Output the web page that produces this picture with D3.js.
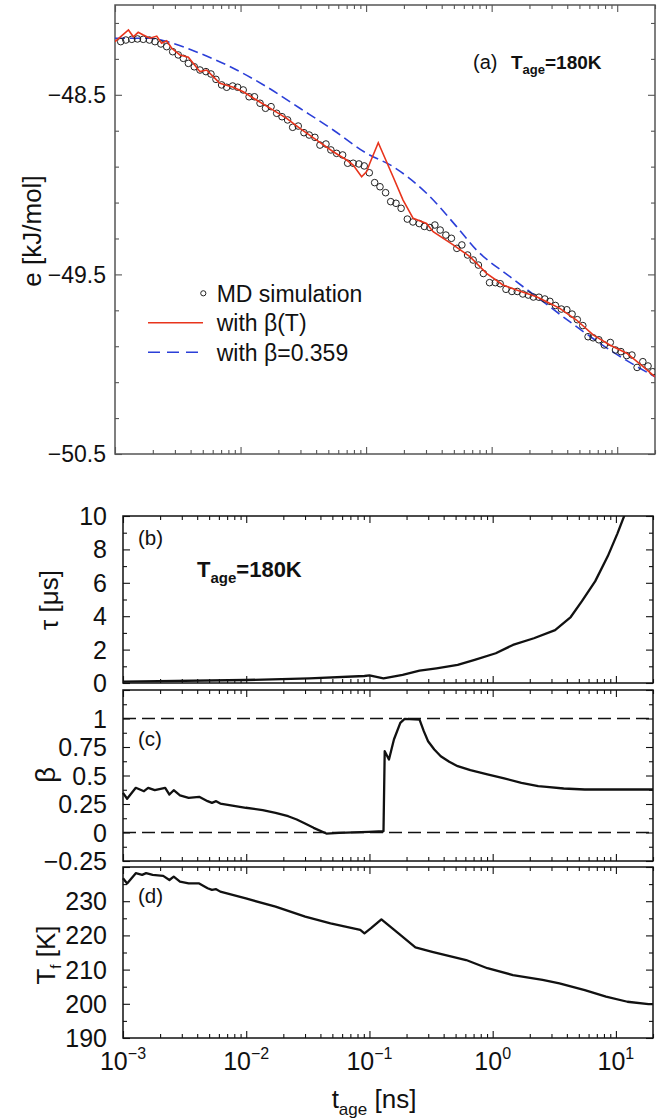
<!DOCTYPE html>
<html>
<head>
<meta charset="utf-8">
<script src="https://cdn.jsdelivr.net/npm/d3@7"></script>
<style>
  body { margin: 0; background: #fff; }
  svg { display: block; font-family: "Liberation Sans", Arial, Helvetica, sans-serif; }
</style>
</head>
<body>
<svg id="fig" width="665" height="1119"></svg>
<script>
// ---------- data ----------
// (a) energy per molecule during aging at T_age = 180 K
const mdTime = [0.00111,0.00122,0.00136,0.00151,0.00168,0.00188,0.00208,0.00232,0.00258,0.00288,
  0.00319,0.00350,0.00384,0.00428,0.00475,0.00530,0.00581,0.00637,0.00707,0.00775,
  0.00865,0.00948,0.0105,0.0117,0.0129,0.0143,0.0158,0.0175,0.0194,0.0214,
  0.0237,0.0260,0.0288,0.0320,0.0352,0.0391,0.0429,0.0479,0.0524,0.0582,
  0.0650,0.0713,0.0789,0.0876,0.0966,0.106,0.117,0.129,0.143,0.157,
  0.173,0.190,0.213,0.236,0.265,0.291,0.322,0.353,0.389,0.432,
  0.478,0.528,0.579,0.643,0.712,0.784,0.859,0.962,1.07,1.17,
  1.30,1.45,1.60,1.77,1.96,2.15,2.38,2.65,2.91,3.22,
  3.59,3.97,4.37,4.81,5.32,5.86,6.43,7.14,7.89,8.81,
  9.69,10.7,11.9,13.1,14.4,16.0,17.6,19.2];
const mdEnergy = [-48.204,-48.195,-48.191,-48.189,-48.191,-48.195,-48.204,-48.217,-48.232,-48.260,
  -48.278,-48.297,-48.325,-48.344,-48.362,-48.371,-48.384,-48.414,-48.445,-48.458,
  -48.451,-48.458,-48.473,-48.511,-48.511,-48.547,-48.575,-48.566,-48.603,-48.622,
  -48.640,-48.681,-48.674,-48.711,-48.724,-48.737,-48.780,-48.774,-48.807,-48.826,
  -48.835,-48.881,-48.881,-48.885,-48.896,-48.934,-48.989,-49.012,-49.045,-49.095,
  -49.104,-49.132,-49.192,-49.208,-49.217,-49.233,-49.239,-49.225,-49.253,-49.281,
  -49.299,-49.355,-49.336,-49.392,-49.420,-49.448,-49.495,-49.546,-49.546,-49.552,
  -49.583,-49.595,-49.595,-49.609,-49.615,-49.626,-49.627,-49.637,-49.650,-49.673,
  -49.693,-49.697,-49.721,-49.752,-49.785,-49.847,-49.853,-49.864,-49.893,-49.879,
  -49.921,-49.930,-49.952,-49.949,-50.018,-49.986,-50.010,-50.042];

// model with temperature dependent beta(T)
const modelTTime = [0.001,0.00128,0.00140,0.00153,0.00168,0.00190,0.00215,0.00235,0.00258,0.00283,
  0.00329,0.00384,0.00475,0.00537,0.00606,0.00685,0.00875,0.0105,0.0134,0.0182,
  0.0233,0.0297,0.0404,0.0547,0.0700,0.0789,0.0921,0.101,0.107,0.125,
  0.164,0.197,0.237,0.303,0.342,0.494,0.671,0.911,1.23,1.58,
  2.28,2.74,3.49,4.74,6.43,8.73,11.9,16.1,20];
const modelTEnergy = [-48.204,-48.139,-48.177,-48.152,-48.167,-48.185,-48.173,-48.213,-48.199,-48.241,
  -48.278,-48.291,-48.371,-48.362,-48.399,-48.436,-48.458,-48.483,-48.529,-48.585,
  -48.631,-48.687,-48.752,-48.817,-48.863,-48.891,-48.956,-48.928,-48.881,-48.767,
  -48.956,-49.086,-49.188,-49.216,-49.262,-49.336,-49.401,-49.494,-49.559,-49.587,
  -49.624,-49.652,-49.689,-49.754,-49.837,-49.893,-49.939,-50.014,-50.070];

// model with constant beta = 0.359
const modelCTime = [0.001,0.00190,0.00258,0.00475,0.00875,0.0161,0.0297,0.0547,0.101,0.164,
  0.303,0.526,0.757,1.40,2.57,4.74,8.73,20];
const modelCEnergy = [-48.185,-48.185,-48.204,-48.269,-48.352,-48.455,-48.575,-48.696,-48.826,-48.900,
  -49.048,-49.234,-49.364,-49.513,-49.652,-49.791,-49.921,-50.070];

const legendLabels = ["MD simulation", "with \u03b2(T)", "with \u03b2=0.359"];

// (b) relaxation time tau [us]
const tauTime  = [0.001,0.00993,0.0325,0.0911,0.100,0.130,0.186,0.255,0.350,0.520,
  0.714,1.06,1.46,2.16,3.21,4.30,5.30,6.80,8.60,10.3,11.9];
const tauValue = [0.08,0.18,0.28,0.42,0.46,0.28,0.48,0.74,0.88,1.08,
  1.38,1.78,2.28,2.68,3.17,3.95,4.90,6.10,7.60,8.96,10.16];

// (c) stretching exponent beta
const betaTime = [0.001,0.00108,0.00127,0.00148,0.00160,0.00181,0.00220,0.00238,0.00258,0.00290,
  0.00341,0.00415,0.00486,0.00527,0.00570,0.00616,0.00993,0.0136,0.0173,0.0219,
  0.0257,0.0300,0.0352,0.0447,0.0567,0.0985,0.130,0.133,0.144,0.158,
  0.178,0.193,0.255,0.276,0.299,0.336,0.379,0.444,0.520,0.659,
  0.906,1.24,1.71,2.34,2.74,3.77,5.59,20];
const betaValue = [0.348,0.296,0.392,0.362,0.392,0.371,0.392,0.333,0.371,0.325,
  0.304,0.313,0.275,0.260,0.275,0.254,0.217,0.196,0.173,0.143,
  0.114,0.079,0.041,-0.009,-0.003,0.006,0.011,0.713,0.640,0.816,
  0.962,0.997,0.991,0.889,0.801,0.728,0.669,0.620,0.582,0.547,
  0.509,0.474,0.436,0.406,0.401,0.386,0.377,0.377];
const betaRefLines = [0, 1];

// (d) fictive temperature T_f [K]
const tfTime = [0.001,0.00108,0.00127,0.00143,0.00154,0.00174,0.00212,0.00238,0.00258,0.00290,
  0.00341,0.00415,0.00486,0.00527,0.00570,0.00616,0.00993,0.0173,0.0301,0.0483,
  0.0842,0.0911,0.103,0.125,0.172,0.236,0.323,0.609,0.906,1.46,
  2.54,3.48,5.59,8.31,12.4,18.4,20];
const tfValue = [236.7,235.2,238.2,237.7,238.2,237.7,237.4,236.2,237.2,235.7,
  235.2,235.2,233.8,233.3,233.5,232.8,230.8,228.4,225.5,223.5,
  221.6,220.6,222.1,224.7,220.6,216.5,215.2,212.8,210.4,208.4,
  207.0,206.0,204.0,202.1,200.6,199.9,199.9];

// tick labels
const timeDecades = [-3, -2, -1, 0, 1];
const eTicks = [-50.5, -49.5, -48.5];
const tauTicks = [0, 2, 4, 6, 8, 10];
const betaTicks = [-0.25, 0, 0.25, 0.5, 0.75, 1];
const tfTicks = [190, 200, 210, 220, 230];

// ---------- drawing ----------
const svg = d3.select("#fig");
const fmtMinus = v => String(v).replace("-", "\u2212");

function frameAxes(g, x, y, o) {
  const [x0, x1] = x.range();
  const [y1, y0] = y.range();
  const xt = x.ticks();
  const xMajor = xt.filter(v => Math.abs(Math.log10(v) - Math.round(Math.log10(v))) < 1e-9);
  const xMinor = xt.filter(v => !xMajor.includes(v));
  const addAxis = (axis, tx, ty) => {
    const a = g.append("g").attr("transform", `translate(${tx},${ty})`).call(axis);
    a.select(".domain").remove();
    a.selectAll("line").attr("stroke", o.stroke).attr("stroke-width", 1.1);
    a.selectAll("text").remove();
  };
  [[d3.axisBottom, y1], [d3.axisTop, y0]].forEach(([f, ty]) => {
    addAxis(f(x).tickValues(xMajor).tickSize(-o.major), 0, ty);
    addAxis(f(x).tickValues(xMinor).tickSize(-o.minor), 0, ty);
  });
  [[d3.axisLeft, x0], [d3.axisRight, x1]].forEach(([f, tx]) => {
    addAxis(f(y).tickValues(o.yMajor).tickSize(-o.major), tx, 0);
    addAxis(f(y).tickValues(o.yMinor).tickSize(-o.minor), tx, 0);
  });
  g.append("rect").attr("x", x0).attr("y", y0).attr("width", x1 - x0).attr("height", y1 - y0)
    .attr("fill", "none").attr("stroke", o.stroke).attr("stroke-width", 1.5);
  g.selectAll(null).data(o.yLabels).join("text")
    .attr("x", x0 - o.labelGap).attr("y", d => y(d)).attr("dy", "0.36em")
    .attr("text-anchor", "end").attr("font-size", o.fontSize).attr("fill", "#111")
    .text(d => fmtMinus(d));
}

function rotatedLabel(g, x, y, size, build) {
  const t = g.append("text").attr("transform", `translate(${x},${y}) rotate(-90)`)
    .attr("text-anchor", "middle").attr("font-size", size).attr("fill", "#111");
  build(t);
}

function tageLabel(g, x, y, size, subSize, shift) {
  const t = g.append("text").attr("x", x).attr("y", y).attr("font-size", size)
    .attr("font-weight", "bold").attr("fill", "#111");
  t.append("tspan").text("T");
  t.append("tspan").attr("dy", shift).attr("font-size", subSize).text("age");
  t.append("tspan").attr("dy", -shift).text("=180K");
}

// ----- panel (a) -----
const xa = d3.scaleLog().domain([1e-3, 20]).range([115, 655]);
const ya = d3.scaleLinear().domain([-50.5, -48.0]).range([454, 5]);
const ga = svg.append("g");
const eMinor = d3.range(-50.3, -48.0, 0.2).map(v => +v.toFixed(1)).filter(v => !eTicks.includes(v));
frameAxes(ga, xa, ya, { stroke: "#555", major: 7, minor: 4, yMajor: eTicks, yMinor: eMinor,
  yLabels: eTicks, labelGap: 9, fontSize: 23 });

ga.append("clipPath").attr("id", "clipA").append("rect")
  .attr("x", 115).attr("y", 5).attr("width", 540).attr("height", 449);
const plotA = ga.append("g").attr("clip-path", "url(#clipA)");

plotA.append("path").datum(d3.zip(modelCTime, modelCEnergy))
  .attr("d", d3.line().x(d => xa(d[0])).y(d => ya(d[1])).curve(d3.curveMonotoneX))
  .attr("fill", "none").attr("stroke", "#2b3fd8").attr("stroke-width", 1.6)
  .attr("stroke-dasharray", "10,5");
plotA.selectAll("circle.md").data(d3.zip(mdTime, mdEnergy)).join("circle")
  .attr("class", "md").attr("cx", d => xa(d[0])).attr("cy", d => ya(d[1])).attr("r", 3.3)
  .attr("fill", "none").attr("stroke", "#222").attr("stroke-width", 1);
plotA.append("path").datum(d3.zip(modelTTime, modelTEnergy))
  .attr("d", d3.line().x(d => xa(d[0])).y(d => ya(d[1])))
  .attr("fill", "none").attr("stroke", "#e8341c").attr("stroke-width", 1.6);

// legend
const leg = ga.append("g");
const legRows = legendLabels.map((label, i) => ({ label, y: 293.3 + i * 29.5 }));
leg.append("circle").attr("cx", 203.3).attr("cy", legRows[0].y).attr("r", 2.6)
  .attr("fill", "none").attr("stroke", "#222").attr("stroke-width", 1);
leg.append("line").attr("x1", 148).attr("x2", 203).attr("y1", legRows[1].y).attr("y2", legRows[1].y)
  .attr("stroke", "#e8341c").attr("stroke-width", 1.6);
leg.append("line").attr("x1", 148).attr("x2", 203).attr("y1", legRows[2].y).attr("y2", legRows[2].y)
  .attr("stroke", "#2b3fd8").attr("stroke-width", 1.6).attr("stroke-dasharray", "12,7");
leg.selectAll("text").data(legRows).join("text")
  .attr("x", 216.7).attr("y", d => d.y + 8.3).attr("font-size", 23).attr("fill", "#111")
  .text(d => d.label);

ga.append("text").attr("x", 473).attr("y", 69).attr("font-size", 20).attr("fill", "#111").text("(a)");
tageLabel(ga, 511, 69, 19, 13, 5);

rotatedLabel(ga, 41, 231, 26, t => t.text("e [kJ/mol]"));

// ----- panels (b)-(d) share the time axis -----
const xb = d3.scaleLog().domain([1e-3, 20]).range([123, 653]);
const lowerLine = (y) => d3.line().x(d => xb(d[0])).y(d => y(d[1]));

// (b)
const yb = d3.scaleLinear().domain([0, 10]).range([683, 516]);
const gb = svg.append("g");
frameAxes(gb, xb, yb, { stroke: "#111", major: 7, minor: 4, yMajor: tauTicks, yMinor: [1, 3, 5, 7, 9],
  yLabels: tauTicks, labelGap: 16, fontSize: 25 });
gb.append("clipPath").attr("id", "clipB").append("rect")
  .attr("x", 123).attr("y", 516).attr("width", 530).attr("height", 167);
gb.append("path").attr("clip-path", "url(#clipB)").datum(d3.zip(tauTime, tauValue))
  .attr("d", lowerLine(yb)).attr("fill", "none").attr("stroke", "#111").attr("stroke-width", 2.3)
  .attr("stroke-linejoin", "round");
gb.append("text").attr("x", 138).attr("y", 545).attr("font-size", 20.5).attr("fill", "#111").text("(b)");
tageLabel(gb, 197, 577, 22, 15, 6);
rotatedLabel(gb, 58, 600, 26, t => t.text("\u03c4 [\u03bcs]"));

// (c)
const yc = d3.scaleLinear().domain([-0.25, 1.25]).range([861, 690]);
const gc = svg.append("g");
frameAxes(gc, xb, yc, { stroke: "#111", major: 7, minor: 4, yMajor: [...betaTicks, 1.25],
  yMinor: [-0.125, 0.125, 0.375, 0.625, 0.875, 1.125], yLabels: betaTicks, labelGap: 16, fontSize: 25 });
gc.selectAll("line.ref").data(betaRefLines).join("line").attr("class", "ref")
  .attr("x1", 123).attr("x2", 653).attr("y1", d => yc(d)).attr("y2", d => yc(d))
  .attr("stroke", "#111").attr("stroke-width", 1.4).attr("stroke-dasharray", "13,6");
gc.append("path").datum(d3.zip(betaTime, betaValue))
  .attr("d", lowerLine(yc)).attr("fill", "none").attr("stroke", "#111").attr("stroke-width", 2.3)
  .attr("stroke-linejoin", "round");
gc.append("text").attr("x", 138).attr("y", 746).attr("font-size", 20.5).attr("fill", "#111").text("(c)");
rotatedLabel(gc, 55, 775, 28, t => t.text("\u03b2"));

// (d)
const yd = d3.scaleLinear().domain([190, 240]).range([1038, 867]);
const gd = svg.append("g");
frameAxes(gd, xb, yd, { stroke: "#111", major: 7, minor: 4, yMajor: [...tfTicks, 240],
  yMinor: [195, 205, 215, 225, 235], yLabels: tfTicks, labelGap: 16, fontSize: 25 });
gd.append("path").datum(d3.zip(tfTime, tfValue))
  .attr("d", lowerLine(yd)).attr("fill", "none").attr("stroke", "#111").attr("stroke-width", 2.3)
  .attr("stroke-linejoin", "round");
gd.append("text").attr("x", 138).attr("y", 903).attr("font-size", 20.5).attr("fill", "#111").text("(d)");
rotatedLabel(gd, 55, 955, 26, t => {
  t.append("tspan").text("T");
  t.append("tspan").attr("dy", 6).attr("font-size", 15).text("f");
  t.append("tspan").attr("dy", -6).text(" [K]");
});

// time-axis tick labels (10^n)
const xl = gd.selectAll("text.xl").data(timeDecades).join("text").attr("class", "xl")
  .attr("x", d => xb(Math.pow(10, d))).attr("y", 1070).attr("text-anchor", "middle")
  .attr("font-size", 25).attr("fill", "#111");
xl.append("tspan").text("10");
xl.append("tspan").attr("dy", -11).attr("font-size", 16).text(d => fmtMinus(d));

const xt = gd.append("text").attr("x", 374).attr("y", 1108).attr("text-anchor", "middle")
  .attr("font-size", 26).attr("fill", "#111");
xt.append("tspan").text("t");
xt.append("tspan").attr("dy", 7).attr("font-size", 17).text("age");
xt.append("tspan").attr("dy", -7).text(" [ns]");
</script>
</body>
</html>
